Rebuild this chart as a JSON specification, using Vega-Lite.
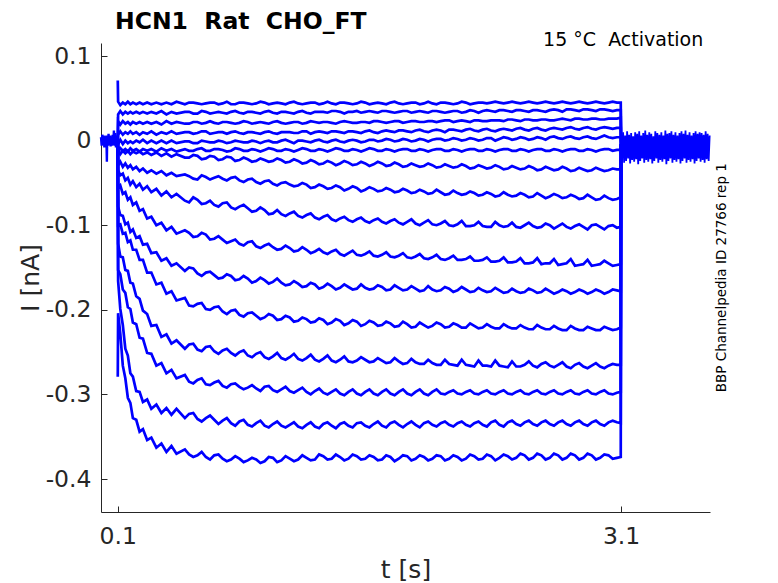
{
  "$schema": "https://vega.github.io/schema/vega-lite/v6.json",
  "width": 609,
  "height": 469,
  "autosize": {"type": "none"},
  "padding": {"left": 101, "top": 43, "right": 68, "bottom": 71},
  "background": "white",
  "title": {
    "text": "HCN1\u00a0\u00a0Rat\u00a0\u00a0CHO_FT",
    "anchor": "start",
    "frame": "group",
    "dx": 14,
    "dy": 38,
    "offset": 16,
    "baseline": "alphabetic",
    "font": "DejaVu Sans",
    "fontSize": 23.5,
    "fontWeight": "bold",
    "color": "#000000"
  },
  "datasets": {
    "pre": [
      {"t": 0, "I": 0.004}, {"t": 0.004, "I": -0.006}, {"t": 0.008, "I": 0.007}, {"t": 0.012, "I": -0.005},
      {"t": 0.016, "I": 0.006}, {"t": 0.02, "I": -0.008}, {"t": 0.024, "I": 0.005}, {"t": 0.028, "I": -0.007},
      {"t": 0.032, "I": 0.006}, {"t": 0.035, "I": -0.025}, {"t": 0.037, "I": 0.004}, {"t": 0.041, "I": -0.006},
      {"t": 0.045, "I": 0.008}, {"t": 0.049, "I": -0.005}, {"t": 0.053, "I": 0.006}, {"t": 0.057, "I": -0.007},
      {"t": 0.061, "I": 0.005}, {"t": 0.065, "I": -0.006}, {"t": 0.069, "I": 0.007}, {"t": 0.073, "I": -0.005},
      {"t": 0.077, "I": 0.012}, {"t": 0.081, "I": -0.006}, {"t": 0.085, "I": 0.009}, {"t": 0.089, "I": -0.008},
      {"t": 0.093, "I": 0.006}, {"t": 0.097, "I": -0.005}, {"t": 0.1, "I": 0}
    ],
    "steps": [
      {"t":0.1,"a":0.071,"b":0,"c":0,"d":0,"e":0,"f":0,"g":0,"h":0,"i":0,"j":0,"k":0,"l":0,"m":0,"n":0,"o":0,"p":-0.279},
      {"t":0.102,"a":0.046,"b":0.031,"c":0.023,"d":0.007,"e":-0.004,"f":-0.013,"g":-0.011,"h":-0.029,"i":-0.035,"j":-0.056,"k":-0.078,"l":-0.1,"m":-0.122,"n":-0.153,"o":-0.166,"p":-0.204},
      {"t":0.115,"a":0.042,"b":0.035,"c":0.019,"d":0.011,"e":0.001,"f":-0.009,"g":-0.016,"h":-0.025,"i":-0.041,"j":-0.053,"k":-0.088,"l":-0.099,"m":-0.137,"n":-0.158,"o":-0.199,"p":-0.228},
      {"t":0.13,"a":0.045,"b":0.031,"c":0.023,"d":0.007,"e":-0.004,"f":-0.012,"g":-0.012,"h":-0.031,"i":-0.039,"j":-0.063,"k":-0.089,"l":-0.11,"m":-0.138,"n":-0.176,"o":-0.218,"p":-0.266},
      {"t":0.145,"a":0.043,"b":0.034,"c":0.02,"d":0.01,"e":0,"f":-0.01,"g":-0.015,"h":-0.027,"i":-0.047,"j":-0.061,"k":-0.099,"l":-0.109,"m":-0.153,"n":-0.18,"o":-0.246,"p":-0.281},
      {"t":0.16,"a":0.046,"b":0.032,"c":0.022,"d":0.008,"e":-0.003,"f":-0.013,"g":-0.012,"h":-0.032,"i":-0.044,"j":-0.07,"k":-0.097,"l":-0.12,"m":-0.154,"n":-0.197,"o":-0.254,"p":-0.304},
      {"t":0.175,"a":0.043,"b":0.034,"c":0.019,"d":0.011,"e":-0.001,"f":-0.009,"g":-0.016,"h":-0.029,"i":-0.052,"j":-0.067,"k":-0.108,"l":-0.118,"m":-0.168,"n":-0.199,"o":-0.275,"p":-0.31},
      {"t":0.19,"a":0.045,"b":0.032,"c":0.022,"d":0.008,"e":-0.003,"f":-0.012,"g":-0.013,"h":-0.034,"i":-0.048,"j":-0.076,"k":-0.105,"l":-0.129,"m":-0.169,"n":-0.215,"o":-0.279,"p":-0.328},
      {"t":0.21,"a":0.043,"b":0.034,"c":0.02,"d":0.01,"e":0,"f":-0.01,"g":-0.015,"h":-0.031,"i":-0.055,"j":-0.073,"k":-0.115,"l":-0.129,"m":-0.184,"n":-0.217,"o":-0.296,"p":-0.33},
      {"t":0.23,"a":0.045,"b":0.032,"c":0.022,"d":0.007,"e":-0.002,"f":-0.013,"g":-0.013,"h":-0.036,"i":-0.051,"j":-0.083,"k":-0.113,"l":-0.141,"m":-0.187,"n":-0.233,"o":-0.297,"p":-0.344},
      {"t":0.25,"a":0.043,"b":0.034,"c":0.02,"d":0.01,"e":0.001,"f":-0.01,"g":-0.016,"h":-0.033,"i":-0.058,"j":-0.081,"k":-0.123,"l":-0.141,"m":-0.201,"n":-0.234,"o":-0.309,"p":-0.341},
      {"t":0.275,"a":0.045,"b":0.032,"c":0.022,"d":0.008,"e":-0.003,"f":-0.012,"g":-0.014,"h":-0.038,"i":-0.054,"j":-0.092,"k":-0.122,"l":-0.156,"m":-0.205,"n":-0.251,"o":-0.306,"p":-0.354},
      {"t":0.3,"a":0.043,"b":0.034,"c":0.02,"d":0.011,"e":0,"f":-0.01,"g":-0.017,"h":-0.035,"i":-0.061,"j":-0.09,"k":-0.133,"l":-0.156,"m":-0.219,"n":-0.252,"o":-0.317,"p":-0.351},
      {"t":0.33,"a":0.045,"b":0.032,"c":0.022,"d":0.007,"e":-0.003,"f":-0.013,"g":-0.014,"h":-0.039,"i":-0.057,"j":-0.1,"k":-0.132,"l":-0.17,"m":-0.218,"n":-0.266,"o":-0.312,"p":-0.363},
      {"t":0.36,"a":0.043,"b":0.035,"c":0.019,"d":0.01,"e":0,"f":-0.009,"g":-0.018,"h":-0.036,"i":-0.065,"j":-0.097,"k":-0.142,"l":-0.168,"m":-0.232,"n":-0.263,"o":-0.322,"p":-0.358},
      {"t":0.39,"a":0.045,"b":0.031,"c":0.023,"d":0.008,"e":-0.003,"f":-0.012,"g":-0.015,"h":-0.041,"i":-0.06,"j":-0.106,"k":-0.139,"l":-0.181,"m":-0.229,"n":-0.275,"o":-0.316,"p":-0.368},
      {"t":0.42,"a":0.043,"b":0.034,"c":0.02,"d":0.011,"e":0,"f":-0.01,"g":-0.019,"h":-0.038,"i":-0.067,"j":-0.102,"k":-0.148,"l":-0.178,"m":-0.24,"n":-0.271,"o":-0.324,"p":-0.361},
      {"t":0.45,"a":0.046,"b":0.032,"c":0.022,"d":0.008,"e":-0.003,"f":-0.013,"g":-0.016,"h":-0.042,"i":-0.063,"j":-0.11,"k":-0.145,"l":-0.189,"m":-0.236,"n":-0.281,"o":-0.317,"p":-0.37},
      {"t":0.5,"a":0.043,"b":0.034,"c":0.02,"d":0.01,"e":-0.001,"f":-0.01,"g":-0.02,"h":-0.04,"i":-0.071,"j":-0.106,"k":-0.154,"l":-0.186,"m":-0.246,"n":-0.277,"o":-0.328,"p":-0.365},
      {"t":0.55,"a":0.045,"b":0.032,"c":0.022,"d":0.008,"e":-0.003,"f":-0.012,"g":-0.017,"h":-0.045,"i":-0.067,"j":-0.114,"k":-0.151,"l":-0.196,"m":-0.24,"n":-0.287,"o":-0.322,"p":-0.374},
      {"t":0.6,"a":0.043,"b":0.035,"c":0.02,"d":0.011,"e":0,"f":-0.009,"g":-0.022,"h":-0.041,"i":-0.075,"j":-0.109,"k":-0.16,"l":-0.192,"m":-0.249,"n":-0.281,"o":-0.332,"p":-0.368},
      {"t":0.65,"a":0.045,"b":0.032,"c":0.023,"d":0.008,"e":-0.002,"f":-0.012,"g":-0.018,"h":-0.046,"i":-0.071,"j":-0.117,"k":-0.155,"l":-0.2,"m":-0.243,"n":-0.289,"o":-0.325,"p":-0.377},
      {"t":0.7,"a":0.043,"b":0.034,"c":0.02,"d":0.01,"e":0,"f":-0.01,"g":-0.023,"h":-0.042,"i":-0.078,"j":-0.113,"k":-0.163,"l":-0.196,"m":-0.252,"n":-0.284,"o":-0.335,"p":-0.371},
      {"t":0.75,"a":0.046,"b":0.032,"c":0.022,"d":0.008,"e":-0.003,"f":-0.013,"g":-0.019,"h":-0.047,"i":-0.073,"j":-0.121,"k":-0.158,"l":-0.205,"m":-0.246,"n":-0.292,"o":-0.328,"p":-0.379},
      {"t":0.8,"a":0.043,"b":0.035,"c":0.02,"d":0.011,"e":0,"f":-0.009,"g":-0.024,"h":-0.043,"i":-0.081,"j":-0.117,"k":-0.165,"l":-0.2,"m":-0.254,"n":-0.287,"o":-0.337,"p":-0.373},
      {"t":0.85,"a":0.045,"b":0.032,"c":0.023,"d":0.008,"e":-0.002,"f":-0.012,"g":-0.02,"h":-0.049,"i":-0.076,"j":-0.124,"k":-0.16,"l":-0.208,"m":-0.248,"n":-0.294,"o":-0.33,"p":-0.38},
      {"t":0.9,"a":0.043,"b":0.034,"c":0.02,"d":0.01,"e":0,"f":-0.01,"g":-0.025,"h":-0.045,"i":-0.084,"j":-0.119,"k":-0.168,"l":-0.203,"m":-0.256,"n":-0.289,"o":-0.338,"p":-0.375},
      {"t":0.95,"a":0.046,"b":0.032,"c":0.022,"d":0.008,"e":-0.003,"f":-0.013,"g":-0.021,"h":-0.051,"i":-0.079,"j":-0.127,"k":-0.162,"l":-0.211,"m":-0.25,"n":-0.296,"o":-0.331,"p":-0.381},
      {"t":1.0,"a":0.043,"b":0.035,"c":0.02,"d":0.011,"e":0,"f":-0.009,"g":-0.025,"h":-0.047,"i":-0.087,"j":-0.122,"k":-0.169,"l":-0.205,"m":-0.258,"n":-0.29,"o":-0.339,"p":-0.374},
      {"t":1.05,"a":0.045,"b":0.032,"c":0.023,"d":0.008,"e":-0.002,"f":-0.012,"g":-0.021,"h":-0.053,"i":-0.082,"j":-0.129,"k":-0.163,"l":-0.212,"m":-0.251,"n":-0.297,"o":-0.332,"p":-0.38},
      {"t":1.1,"a":0.043,"b":0.034,"c":0.02,"d":0.01,"e":0.001,"f":-0.01,"g":-0.026,"h":-0.049,"i":-0.089,"j":-0.124,"k":-0.171,"l":-0.207,"m":-0.259,"n":-0.291,"o":-0.339,"p":-0.373},
      {"t":1.15,"a":0.046,"b":0.032,"c":0.022,"d":0.009,"e":-0.003,"f":-0.013,"g":-0.022,"h":-0.054,"i":-0.084,"j":-0.131,"k":-0.166,"l":-0.214,"m":-0.252,"n":-0.298,"o":-0.333,"p":-0.379},
      {"t":1.2,"a":0.043,"b":0.035,"c":0.02,"d":0.011,"e":0,"f":-0.009,"g":-0.027,"h":-0.05,"i":-0.091,"j":-0.126,"k":-0.173,"l":-0.209,"m":-0.26,"n":-0.292,"o":-0.34,"p":-0.372},
      {"t":1.25,"a":0.045,"b":0.032,"c":0.023,"d":0.008,"e":-0.002,"f":-0.012,"g":-0.023,"h":-0.056,"i":-0.086,"j":-0.133,"k":-0.168,"l":-0.215,"m":-0.253,"n":-0.3,"o":-0.333,"p":-0.378},
      {"t":1.3,"a":0.043,"b":0.034,"c":0.021,"d":0.011,"e":0.001,"f":-0.01,"g":-0.028,"h":-0.052,"i":-0.093,"j":-0.128,"k":-0.175,"l":-0.21,"m":-0.261,"n":-0.293,"o":-0.34,"p":-0.371},
      {"t":1.35,"a":0.046,"b":0.033,"c":0.022,"d":0.009,"e":-0.002,"f":-0.013,"g":-0.024,"h":-0.057,"i":-0.088,"j":-0.134,"k":-0.169,"l":-0.217,"m":-0.254,"n":-0.3,"o":-0.333,"p":-0.377},
      {"t":1.4,"a":0.043,"b":0.035,"c":0.02,"d":0.011,"e":0.001,"f":-0.009,"g":-0.029,"h":-0.053,"i":-0.095,"j":-0.129,"k":-0.176,"l":-0.211,"m":-0.262,"n":-0.294,"o":-0.34,"p":-0.371},
      {"t":1.45,"a":0.045,"b":0.032,"c":0.023,"d":0.009,"e":-0.002,"f":-0.012,"g":-0.024,"h":-0.059,"i":-0.09,"j":-0.136,"k":-0.17,"l":-0.218,"m":-0.255,"n":-0.301,"o":-0.333,"p":-0.378},
      {"t":1.5,"a":0.043,"b":0.034,"c":0.021,"d":0.011,"e":0.001,"f":-0.01,"g":-0.029,"h":-0.054,"i":-0.096,"j":-0.13,"k":-0.176,"l":-0.212,"m":-0.262,"n":-0.294,"o":-0.339,"p":-0.371},
      {"t":1.55,"a":0.046,"b":0.033,"c":0.022,"d":0.009,"e":-0.002,"f":-0.013,"g":-0.025,"h":-0.06,"i":-0.091,"j":-0.136,"k":-0.17,"l":-0.219,"m":-0.256,"n":-0.301,"o":-0.333,"p":-0.377},
      {"t":1.6,"a":0.043,"b":0.035,"c":0.021,"d":0.012,"e":0.001,"f":-0.009,"g":-0.03,"h":-0.055,"i":-0.097,"j":-0.131,"k":-0.176,"l":-0.213,"m":-0.262,"n":-0.294,"o":-0.339,"p":-0.372},
      {"t":1.65,"a":0.045,"b":0.033,"c":0.023,"d":0.009,"e":-0.001,"f":-0.012,"g":-0.025,"h":-0.06,"i":-0.092,"j":-0.137,"k":-0.171,"l":-0.219,"m":-0.257,"n":-0.301,"o":-0.332,"p":-0.378},
      {"t":1.7,"a":0.043,"b":0.035,"c":0.021,"d":0.012,"e":0.002,"f":-0.01,"g":-0.03,"h":-0.056,"i":-0.098,"j":-0.132,"k":-0.177,"l":-0.214,"m":-0.263,"n":-0.294,"o":-0.339,"p":-0.372},
      {"t":1.75,"a":0.046,"b":0.033,"c":0.023,"d":0.01,"e":-0.001,"f":-0.013,"g":-0.026,"h":-0.061,"i":-0.093,"j":-0.138,"k":-0.171,"l":-0.22,"m":-0.257,"n":-0.301,"o":-0.332,"p":-0.379},
      {"t":1.8,"a":0.043,"b":0.035,"c":0.021,"d":0.012,"e":0.002,"f":-0.01,"g":-0.031,"h":-0.057,"i":-0.099,"j":-0.133,"k":-0.177,"l":-0.214,"m":-0.264,"n":-0.294,"o":-0.339,"p":-0.372},
      {"t":1.85,"a":0.045,"b":0.033,"c":0.023,"d":0.01,"e":-0.001,"f":-0.012,"g":-0.027,"h":-0.062,"i":-0.093,"j":-0.139,"k":-0.172,"l":-0.221,"m":-0.258,"n":-0.301,"o":-0.332,"p":-0.378},
      {"t":1.9,"a":0.043,"b":0.035,"c":0.022,"d":0.013,"e":0.002,"f":-0.01,"g":-0.031,"h":-0.058,"i":-0.1,"j":-0.134,"k":-0.178,"l":-0.215,"m":-0.264,"n":-0.294,"o":-0.339,"p":-0.372},
      {"t":1.95,"a":0.046,"b":0.033,"c":0.023,"d":0.01,"e":-0.001,"f":-0.013,"g":-0.027,"h":-0.063,"i":-0.094,"j":-0.14,"k":-0.172,"l":-0.221,"m":-0.259,"n":-0.301,"o":-0.332,"p":-0.378},
      {"t":2.0,"a":0.043,"b":0.035,"c":0.022,"d":0.013,"e":0.002,"f":-0.01,"g":-0.032,"h":-0.058,"i":-0.1,"j":-0.135,"k":-0.178,"l":-0.215,"m":-0.265,"n":-0.294,"o":-0.338,"p":-0.372},
      {"t":2.05,"a":0.045,"b":0.033,"c":0.024,"d":0.01,"e":0,"f":-0.012,"g":-0.028,"h":-0.064,"i":-0.095,"j":-0.141,"k":-0.173,"l":-0.221,"m":-0.259,"n":-0.3,"o":-0.332,"p":-0.378},
      {"t":2.1,"a":0.043,"b":0.035,"c":0.022,"d":0.013,"e":0.003,"f":-0.01,"g":-0.032,"h":-0.059,"i":-0.101,"j":-0.136,"k":-0.179,"l":-0.216,"m":-0.265,"n":-0.295,"o":-0.338,"p":-0.372},
      {"t":2.15,"a":0.046,"b":0.033,"c":0.024,"d":0.011,"e":0,"f":-0.013,"g":-0.028,"h":-0.064,"i":-0.095,"j":-0.141,"k":-0.173,"l":-0.221,"m":-0.259,"n":-0.3,"o":-0.332,"p":-0.378},
      {"t":2.2,"a":0.043,"b":0.036,"c":0.022,"d":0.014,"e":0.003,"f":-0.01,"g":-0.033,"h":-0.06,"i":-0.101,"j":-0.137,"k":-0.179,"l":-0.216,"m":-0.266,"n":-0.295,"o":-0.338,"p":-0.371},
      {"t":2.25,"a":0.045,"b":0.033,"c":0.024,"d":0.011,"e":0,"f":-0.012,"g":-0.029,"h":-0.065,"i":-0.096,"j":-0.142,"k":-0.174,"l":-0.222,"m":-0.26,"n":-0.3,"o":-0.332,"p":-0.377},
      {"t":2.3,"a":0.044,"b":0.036,"c":0.023,"d":0.014,"e":0.003,"f":-0.01,"g":-0.033,"h":-0.061,"i":-0.102,"j":-0.138,"k":-0.179,"l":-0.217,"m":-0.266,"n":-0.295,"o":-0.338,"p":-0.371},
      {"t":2.35,"a":0.046,"b":0.034,"c":0.024,"d":0.011,"e":0,"f":-0.013,"g":-0.029,"h":-0.066,"i":-0.096,"j":-0.143,"k":-0.174,"l":-0.222,"m":-0.26,"n":-0.3,"o":-0.331,"p":-0.378},
      {"t":2.4,"a":0.044,"b":0.036,"c":0.023,"d":0.014,"e":0.004,"f":-0.01,"g":-0.034,"h":-0.061,"i":-0.102,"j":-0.138,"k":-0.18,"l":-0.217,"m":-0.267,"n":-0.295,"o":-0.338,"p":-0.371},
      {"t":2.45,"a":0.046,"b":0.034,"c":0.025,"d":0.012,"e":0.001,"f":-0.012,"g":-0.03,"h":-0.066,"i":-0.097,"j":-0.144,"k":-0.175,"l":-0.222,"m":-0.261,"n":-0.3,"o":-0.331,"p":-0.377},
      {"t":2.5,"a":0.044,"b":0.036,"c":0.023,"d":0.015,"e":0.004,"f":-0.01,"g":-0.034,"h":-0.062,"i":-0.103,"j":-0.139,"k":-0.18,"l":-0.218,"m":-0.267,"n":-0.295,"o":-0.337,"p":-0.37},
      {"t":2.55,"a":0.046,"b":0.034,"c":0.025,"d":0.012,"e":0.001,"f":-0.013,"g":-0.03,"h":-0.067,"i":-0.097,"j":-0.145,"k":-0.175,"l":-0.223,"m":-0.261,"n":-0.3,"o":-0.331,"p":-0.377},
      {"t":2.6,"a":0.044,"b":0.036,"c":0.024,"d":0.015,"e":0.004,"f":-0.01,"g":-0.035,"h":-0.062,"i":-0.103,"j":-0.139,"k":-0.18,"l":-0.218,"m":-0.268,"n":-0.295,"o":-0.337,"p":-0.37},
      {"t":2.65,"a":0.046,"b":0.034,"c":0.025,"d":0.012,"e":0.001,"f":-0.012,"g":-0.031,"h":-0.068,"i":-0.098,"j":-0.145,"k":-0.175,"l":-0.223,"m":-0.262,"n":-0.3,"o":-0.331,"p":-0.377},
      {"t":2.7,"a":0.044,"b":0.037,"c":0.024,"d":0.015,"e":0.005,"f":-0.01,"g":-0.035,"h":-0.063,"i":-0.104,"j":-0.14,"k":-0.181,"l":-0.219,"m":-0.268,"n":-0.295,"o":-0.337,"p":-0.37},
      {"t":2.75,"a":0.046,"b":0.034,"c":0.026,"d":0.013,"e":0.002,"f":-0.013,"g":-0.031,"h":-0.068,"i":-0.098,"j":-0.146,"k":-0.176,"l":-0.224,"m":-0.262,"n":-0.3,"o":-0.331,"p":-0.377},
      {"t":2.8,"a":0.044,"b":0.037,"c":0.024,"d":0.016,"e":0.005,"f":-0.01,"g":-0.036,"h":-0.064,"i":-0.104,"j":-0.14,"k":-0.181,"l":-0.219,"m":-0.269,"n":-0.295,"o":-0.337,"p":-0.37},
      {"t":2.85,"a":0.046,"b":0.035,"c":0.026,"d":0.013,"e":0.002,"f":-0.012,"g":-0.032,"h":-0.069,"i":-0.099,"j":-0.147,"k":-0.176,"l":-0.224,"m":-0.263,"n":-0.3,"o":-0.331,"p":-0.377},
      {"t":2.9,"a":0.044,"b":0.037,"c":0.025,"d":0.016,"e":0.005,"f":-0.01,"g":-0.036,"h":-0.064,"i":-0.105,"j":-0.141,"k":-0.181,"l":-0.22,"m":-0.269,"n":-0.295,"o":-0.337,"p":-0.37},
      {"t":2.95,"a":0.046,"b":0.035,"c":0.026,"d":0.013,"e":0.002,"f":-0.013,"g":-0.032,"h":-0.07,"i":-0.099,"j":-0.147,"k":-0.176,"l":-0.224,"m":-0.263,"n":-0.3,"o":-0.331,"p":-0.377},
      {"t":3.0,"a":0.044,"b":0.037,"c":0.025,"d":0.016,"e":0.006,"f":-0.01,"g":-0.036,"h":-0.065,"i":-0.105,"j":-0.142,"k":-0.181,"l":-0.22,"m":-0.269,"n":-0.295,"o":-0.337,"p":-0.371},
      {"t":3.05,"a":0.046,"b":0.035,"c":0.026,"d":0.014,"e":0.003,"f":-0.012,"g":-0.033,"h":-0.07,"i":-0.1,"j":-0.148,"k":-0.176,"l":-0.224,"m":-0.264,"n":-0.3,"o":-0.331,"p":-0.376},
      {"t":3.098,"a":0.045,"b":0.036,"c":0.027,"d":0.015,"e":0.004,"f":-0.011,"g":-0.034,"h":-0.067,"i":-0.102,"j":-0.146,"k":-0.178,"l":-0.221,"m":-0.265,"n":-0.297,"o":-0.334,"p":-0.374},
      {"t":3.1,"a":-0.004,"b":-0.004,"c":-0.004,"d":-0.004,"e":-0.004,"f":-0.004,"g":-0.004,"h":-0.004,"i":-0.004,"j":-0.004,"k":-0.004,"l":-0.004,"m":-0.004,"n":-0.004,"o":-0.004,"p":-0.004},
      {"t":0.525,"a":0.045,"b":0.034,"c":0.02,"d":0.01,"e":-0.001,"f":-0.012,"g":-0.02,"h":-0.042,"i":-0.073,"j":-0.109,"k":-0.15,"l":-0.195,"m":-0.241,"n":-0.285,"o":-0.323,"p":-0.371},
      {"t":0.575,"a":0.044,"b":0.032,"c":0.022,"d":0.009,"e":-0.003,"f":-0.01,"g":-0.018,"h":-0.046,"i":-0.07,"j":-0.113,"k":-0.157,"l":-0.193,"m":-0.247,"n":-0.283,"o":-0.329,"p":-0.372},
      {"t":0.625,"a":0.044,"b":0.034,"c":0.021,"d":0.011,"e":-0.001,"f":-0.012,"g":-0.021,"h":-0.043,"i":-0.074,"j":-0.111,"k":-0.156,"l":-0.199,"m":-0.244,"n":-0.288,"o":-0.328,"p":-0.374},
      {"t":0.675,"a":0.045,"b":0.033,"c":0.021,"d":0.009,"e":-0.002,"f":-0.01,"g":-0.019,"h":-0.044,"i":-0.076,"j":-0.116,"k":-0.159,"l":-0.197,"m":-0.249,"n":-0.286,"o":-0.33,"p":-0.372},
      {"t":0.725,"a":0.044,"b":0.033,"c":0.022,"d":0.01,"e":-0.001,"f":-0.011,"g":-0.022,"h":-0.045,"i":-0.074,"j":-0.117,"k":-0.162,"l":-0.202,"m":-0.248,"n":-0.29,"o":-0.331,"p":-0.376},
      {"t":0.775,"a":0.043,"b":0.034,"c":0.021,"d":0.01,"e":-0.002,"f":-0.012,"g":-0.02,"h":-0.044,"i":-0.079,"j":-0.119,"k":-0.16,"l":-0.201,"m":-0.251,"n":-0.288,"o":-0.334,"p":-0.377},
      {"t":0.825,"a":0.045,"b":0.033,"c":0.021,"d":0.009,"e":-0.001,"f":-0.01,"g":-0.023,"h":-0.047,"i":-0.078,"j":-0.122,"k":-0.164,"l":-0.206,"m":-0.25,"n":-0.291,"o":-0.332,"p":-0.376},
      {"t":0.875,"a":0.044,"b":0.034,"c":0.022,"d":0.01,"e":-0.002,"f":-0.012,"g":-0.022,"h":-0.046,"i":-0.08,"j":-0.12,"k":-0.163,"l":-0.204,"m":-0.254,"n":-0.292,"o":-0.336,"p":-0.378},
      {"t":0.925,"a":0.044,"b":0.033,"c":0.021,"d":0.009,"e":-0.001,"f":-0.011,"g":-0.024,"h":-0.049,"i":-0.083,"j":-0.125,"k":-0.166,"l":-0.207,"m":-0.252,"n":-0.293,"o":-0.334,"p":-0.377},
      {"t":0.975,"a":0.045,"b":0.034,"c":0.021,"d":0.01,"e":-0.001,"f":-0.011,"g":-0.023,"h":-0.048,"i":-0.082,"j":-0.124,"k":-0.165,"l":-0.209,"m":-0.256,"n":-0.291,"o":-0.337,"p":-0.379},
      {"t":1.025,"a":0.044,"b":0.033,"c":0.022,"d":0.009,"e":-0.002,"f":-0.01,"g":-0.024,"h":-0.051,"i":-0.086,"j":-0.126,"k":-0.167,"l":-0.207,"m":-0.255,"n":-0.295,"o":-0.335,"p":-0.375},
      {"t":1.075,"a":0.044,"b":0.034,"c":0.021,"d":0.01,"e":0,"f":-0.012,"g":-0.023,"h":-0.05,"i":-0.087,"j":-0.128,"k":-0.168,"l":-0.211,"m":-0.257,"n":-0.294,"o":-0.337,"p":-0.378},
      {"t":1.125,"a":0.045,"b":0.033,"c":0.021,"d":0.01,"e":-0.001,"f":-0.011,"g":-0.025,"h":-0.052,"i":-0.086,"j":-0.127,"k":-0.17,"l":-0.209,"m":-0.256,"n":-0.296,"o":-0.336,"p":-0.376},
      {"t":1.175,"a":0.044,"b":0.034,"c":0.022,"d":0.009,"e":0,"f":-0.011,"g":-0.024,"h":-0.053,"i":-0.089,"j":-0.13,"k":-0.169,"l":-0.213,"m":-0.258,"n":-0.295,"o":-0.338,"p":-0.377},
      {"t":1.225,"a":0.044,"b":0.033,"c":0.021,"d":0.011,"e":-0.001,"f":-0.01,"g":-0.026,"h":-0.052,"i":-0.088,"j":-0.129,"k":-0.172,"l":-0.211,"m":-0.257,"n":-0.297,"o":-0.336,"p":-0.375},
      {"t":1.275,"a":0.045,"b":0.034,"c":0.022,"d":0.01,"e":0,"f":-0.012,"g":-0.025,"h":-0.055,"i":-0.091,"j":-0.131,"k":-0.17,"l":-0.214,"m":-0.259,"n":-0.296,"o":-0.338,"p":-0.377},
      {"t":1.325,"a":0.044,"b":0.034,"c":0.022,"d":0.01,"e":-0.001,"f":-0.011,"g":-0.027,"h":-0.054,"i":-0.09,"j":-0.132,"k":-0.173,"l":-0.212,"m":-0.258,"n":-0.298,"o":-0.335,"p":-0.373},
      {"t":1.375,"a":0.044,"b":0.035,"c":0.021,"d":0.011,"e":0,"f":-0.011,"g":-0.026,"h":-0.056,"i":-0.093,"j":-0.131,"k":-0.172,"l":-0.215,"m":-0.26,"n":-0.297,"o":-0.337,"p":-0.376},
      {"t":1.425,"a":0.045,"b":0.034,"c":0.022,"d":0.01,"e":-0.001,"f":-0.01,"g":-0.027,"h":-0.055,"i":-0.092,"j":-0.134,"k":-0.174,"l":-0.213,"m":-0.259,"n":-0.299,"o":-0.335,"p":-0.374},
      {"t":1.475,"a":0.044,"b":0.034,"c":0.022,"d":0.011,"e":0,"f":-0.012,"g":-0.026,"h":-0.057,"i":-0.094,"j":-0.133,"k":-0.173,"l":-0.216,"m":-0.261,"n":-0.297,"o":-0.337,"p":-0.376},
      {"t":1.525,"a":0.044,"b":0.035,"c":0.021,"d":0.01,"e":0,"f":-0.011,"g":-0.028,"h":-0.056,"i":-0.093,"j":-0.135,"k":-0.175,"l":-0.214,"m":-0.26,"n":-0.299,"o":-0.334,"p":-0.373},
      {"t":1.575,"a":0.045,"b":0.034,"c":0.022,"d":0.011,"e":-0.001,"f":-0.011,"g":-0.027,"h":-0.058,"i":-0.095,"j":-0.134,"k":-0.174,"l":-0.217,"m":-0.259,"n":-0.297,"o":-0.337,"p":-0.376},
      {"t":1.625,"a":0.044,"b":0.034,"c":0.023,"d":0.01,"e":0.001,"f":-0.01,"g":-0.028,"h":-0.057,"i":-0.094,"j":-0.136,"k":-0.175,"l":-0.215,"m":-0.261,"n":-0.299,"o":-0.335,"p":-0.374},
      {"t":1.675,"a":0.044,"b":0.035,"c":0.022,"d":0.011,"e":0,"f":-0.012,"g":-0.027,"h":-0.059,"i":-0.096,"j":-0.135,"k":-0.173,"l":-0.218,"m":-0.26,"n":-0.297,"o":-0.337,"p":-0.377},
      {"t":1.725,"a":0.045,"b":0.034,"c":0.022,"d":0.011,"e":0.001,"f":-0.011,"g":-0.029,"h":-0.058,"i":-0.095,"j":-0.137,"k":-0.176,"l":-0.216,"m":-0.262,"n":-0.299,"o":-0.334,"p":-0.374},
      {"t":1.775,"a":0.044,"b":0.034,"c":0.023,"d":0.012,"e":0,"f":-0.011,"g":-0.028,"h":-0.06,"i":-0.097,"j":-0.136,"k":-0.174,"l":-0.219,"m":-0.261,"n":-0.297,"o":-0.336,"p":-0.376},
      {"t":1.825,"a":0.044,"b":0.035,"c":0.022,"d":0.011,"e":0.001,"f":-0.01,"g":-0.03,"h":-0.059,"i":-0.096,"j":-0.138,"k":-0.176,"l":-0.217,"m":-0.263,"n":-0.299,"o":-0.335,"p":-0.373},
      {"t":1.875,"a":0.045,"b":0.034,"c":0.023,"d":0.012,"e":0,"f":-0.012,"g":-0.029,"h":-0.061,"i":-0.098,"j":-0.137,"k":-0.175,"l":-0.22,"m":-0.262,"n":-0.297,"o":-0.336,"p":-0.376},
      {"t":1.925,"a":0.044,"b":0.034,"c":0.022,"d":0.011,"e":0.001,"f":-0.011,"g":-0.03,"h":-0.06,"i":-0.097,"j":-0.139,"k":-0.177,"l":-0.218,"m":-0.264,"n":-0.299,"o":-0.334,"p":-0.374},
      {"t":1.975,"a":0.044,"b":0.035,"c":0.023,"d":0.012,"e":0.001,"f":-0.011,"g":-0.029,"h":-0.062,"i":-0.099,"j":-0.138,"k":-0.176,"l":-0.219,"m":-0.263,"n":-0.297,"o":-0.336,"p":-0.376},
      {"t":2.025,"a":0.045,"b":0.034,"c":0.023,"d":0.012,"e":0.002,"f":-0.01,"g":-0.031,"h":-0.061,"i":-0.098,"j":-0.14,"k":-0.177,"l":-0.217,"m":-0.265,"n":-0.299,"o":-0.334,"p":-0.373},
      {"t":2.075,"a":0.044,"b":0.034,"c":0.024,"d":0.013,"e":0.001,"f":-0.012,"g":-0.03,"h":-0.063,"i":-0.1,"j":-0.139,"k":-0.175,"l":-0.22,"m":-0.264,"n":-0.297,"o":-0.336,"p":-0.376},
      {"t":2.125,"a":0.044,"b":0.035,"c":0.023,"d":0.012,"e":0.002,"f":-0.011,"g":-0.031,"h":-0.062,"i":-0.099,"j":-0.141,"k":-0.177,"l":-0.218,"m":-0.266,"n":-0.299,"o":-0.334,"p":-0.374},
      {"t":2.175,"a":0.045,"b":0.034,"c":0.023,"d":0.013,"e":0.001,"f":-0.011,"g":-0.03,"h":-0.063,"i":-0.101,"j":-0.14,"k":-0.176,"l":-0.221,"m":-0.265,"n":-0.297,"o":-0.336,"p":-0.376},
      {"t":2.225,"a":0.044,"b":0.035,"c":0.024,"d":0.012,"e":0.002,"f":-0.01,"g":-0.032,"h":-0.062,"i":-0.1,"j":-0.142,"k":-0.178,"l":-0.219,"m":-0.267,"n":-0.299,"o":-0.334,"p":-0.373},
      {"t":2.275,"a":0.045,"b":0.035,"c":0.023,"d":0.013,"e":0.001,"f":-0.012,"g":-0.031,"h":-0.064,"i":-0.101,"j":-0.141,"k":-0.177,"l":-0.221,"m":-0.266,"n":-0.297,"o":-0.336,"p":-0.376},
      {"t":2.325,"a":0.045,"b":0.035,"c":0.024,"d":0.012,"e":0.003,"f":-0.011,"g":-0.032,"h":-0.063,"i":-0.102,"j":-0.143,"k":-0.178,"l":-0.22,"m":-0.267,"n":-0.299,"o":-0.333,"p":-0.373},
      {"t":2.375,"a":0.045,"b":0.036,"c":0.024,"d":0.013,"e":0.002,"f":-0.011,"g":-0.031,"h":-0.065,"i":-0.1,"j":-0.142,"k":-0.177,"l":-0.222,"m":-0.266,"n":-0.297,"o":-0.336,"p":-0.375},
      {"t":2.425,"a":0.045,"b":0.035,"c":0.025,"d":0.013,"e":0.003,"f":-0.01,"g":-0.033,"h":-0.064,"i":-0.101,"j":-0.144,"k":-0.179,"l":-0.22,"m":-0.268,"n":-0.299,"o":-0.333,"p":-0.373},
      {"t":2.475,"a":0.045,"b":0.036,"c":0.024,"d":0.014,"e":0.002,"f":-0.012,"g":-0.032,"h":-0.065,"i":-0.102,"j":-0.143,"k":-0.178,"l":-0.222,"m":-0.267,"n":-0.297,"o":-0.335,"p":-0.375},
      {"t":2.525,"a":0.045,"b":0.035,"c":0.025,"d":0.013,"e":0.003,"f":-0.011,"g":-0.033,"h":-0.064,"i":-0.1,"j":-0.145,"k":-0.179,"l":-0.221,"m":-0.265,"n":-0.299,"o":-0.333,"p":-0.372},
      {"t":2.575,"a":0.045,"b":0.036,"c":0.024,"d":0.014,"e":0.002,"f":-0.011,"g":-0.032,"h":-0.066,"i":-0.101,"j":-0.144,"k":-0.177,"l":-0.223,"m":-0.266,"n":-0.297,"o":-0.335,"p":-0.375},
      {"t":2.625,"a":0.045,"b":0.035,"c":0.025,"d":0.013,"e":0.003,"f":-0.01,"g":-0.034,"h":-0.065,"i":-0.102,"j":-0.146,"k":-0.179,"l":-0.221,"m":-0.264,"n":-0.299,"o":-0.333,"p":-0.372},
      {"t":2.675,"a":0.045,"b":0.036,"c":0.024,"d":0.014,"e":0.004,"f":-0.012,"g":-0.033,"h":-0.066,"i":-0.1,"j":-0.145,"k":-0.178,"l":-0.223,"m":-0.266,"n":-0.297,"o":-0.335,"p":-0.375},
      {"t":2.725,"a":0.045,"b":0.036,"c":0.025,"d":0.014,"e":0.003,"f":-0.011,"g":-0.034,"h":-0.065,"i":-0.101,"j":-0.147,"k":-0.179,"l":-0.222,"m":-0.265,"n":-0.299,"o":-0.333,"p":-0.372},
      {"t":2.775,"a":0.045,"b":0.037,"c":0.025,"d":0.015,"e":0.004,"f":-0.011,"g":-0.033,"h":-0.067,"i":-0.102,"j":-0.145,"k":-0.178,"l":-0.224,"m":-0.267,"n":-0.297,"o":-0.335,"p":-0.375},
      {"t":2.825,"a":0.045,"b":0.036,"c":0.026,"d":0.014,"e":0.003,"f":-0.01,"g":-0.035,"h":-0.066,"i":-0.101,"j":-0.148,"k":-0.179,"l":-0.222,"m":-0.265,"n":-0.299,"o":-0.333,"p":-0.372},
      {"t":2.875,"a":0.045,"b":0.037,"c":0.025,"d":0.015,"e":0.004,"f":-0.012,"g":-0.034,"h":-0.068,"i":-0.102,"j":-0.146,"k":-0.178,"l":-0.224,"m":-0.267,"n":-0.297,"o":-0.335,"p":-0.375},
      {"t":2.925,"a":0.045,"b":0.036,"c":0.026,"d":0.014,"e":0.003,"f":-0.011,"g":-0.035,"h":-0.067,"i":-0.1,"j":-0.148,"k":-0.179,"l":-0.222,"m":-0.266,"n":-0.299,"o":-0.333,"p":-0.372},
      {"t":2.975,"a":0.045,"b":0.037,"c":0.025,"d":0.015,"e":0.004,"f":-0.011,"g":-0.034,"h":-0.069,"i":-0.102,"j":-0.146,"k":-0.178,"l":-0.224,"m":-0.267,"n":-0.297,"o":-0.335,"p":-0.375},
      {"t":3.025,"a":0.045,"b":0.036,"c":0.026,"d":0.015,"e":0.004,"f":-0.01,"g":-0.035,"h":-0.068,"i":-0.101,"j":-0.145,"k":-0.179,"l":-0.222,"m":-0.266,"n":-0.299,"o":-0.333,"p":-0.372},
      {"t":3.075,"a":0.045,"b":0.036,"c":0.026,"d":0.015,"e":0.004,"f":-0.011,"g":-0.034,"h":-0.069,"i":-0.103,"j":-0.147,"k":-0.177,"l":-0.223,"m":-0.265,"n":-0.298,"o":-0.333,"p":-0.375}
    ],
    "tail": [
      {"t":3.1,"I":0.008},{"t":3.106,"I":-0.022},{"t":3.112,"I":0.01},{"t":3.118,"I":-0.026},{"t":3.124,"I":0.006},
      {"t":3.13,"I":-0.024},{"t":3.136,"I":0.011},{"t":3.142,"I":-0.021},{"t":3.148,"I":0.007},{"t":3.154,"I":-0.027},
      {"t":3.16,"I":0.009},{"t":3.166,"I":-0.023},{"t":3.172,"I":0.005},{"t":3.178,"I":-0.025},{"t":3.184,"I":0.01},
      {"t":3.19,"I":-0.022},{"t":3.196,"I":0.008},{"t":3.202,"I":-0.028},{"t":3.208,"I":0.011},{"t":3.214,"I":-0.024},
      {"t":3.22,"I":0.006},{"t":3.226,"I":-0.021},{"t":3.232,"I":0.009},{"t":3.238,"I":-0.026},{"t":3.244,"I":0.012},
      {"t":3.25,"I":-0.023},{"t":3.256,"I":0.007},{"t":3.262,"I":-0.025},{"t":3.268,"I":0.01},{"t":3.274,"I":-0.022},
      {"t":3.28,"I":0.008},{"t":3.286,"I":-0.027},{"t":3.292,"I":0.005},{"t":3.298,"I":-0.024},{"t":3.304,"I":0.011},
      {"t":3.31,"I":-0.021},{"t":3.316,"I":0.009},{"t":3.322,"I":-0.026},{"t":3.328,"I":0.007},{"t":3.334,"I":-0.023},
      {"t":3.34,"I":0.01},{"t":3.346,"I":-0.025},{"t":3.352,"I":0.006},{"t":3.358,"I":-0.022},{"t":3.364,"I":0.012},
      {"t":3.37,"I":-0.028},{"t":3.376,"I":0.008},{"t":3.382,"I":-0.024},{"t":3.388,"I":0.009},{"t":3.394,"I":-0.021},
      {"t":3.4,"I":0.011},{"t":3.406,"I":-0.026},{"t":3.412,"I":0.007},{"t":3.418,"I":-0.023},{"t":3.424,"I":0.01},
      {"t":3.43,"I":-0.025},{"t":3.436,"I":0.006},{"t":3.442,"I":-0.022},{"t":3.448,"I":0.009},{"t":3.454,"I":-0.027},
      {"t":3.46,"I":0.011},{"t":3.466,"I":-0.024},{"t":3.472,"I":0.008},{"t":3.478,"I":-0.021},{"t":3.484,"I":0.012},
      {"t":3.49,"I":-0.026},{"t":3.496,"I":0.007},{"t":3.502,"I":-0.023},{"t":3.508,"I":0.01},{"t":3.514,"I":-0.025},
      {"t":3.52,"I":0.006},{"t":3.526,"I":-0.022},{"t":3.532,"I":0.009},{"t":3.538,"I":-0.027},{"t":3.544,"I":0.011},
      {"t":3.55,"I":-0.024},{"t":3.556,"I":0.008},{"t":3.562,"I":-0.021},{"t":3.568,"I":0.01},{"t":3.574,"I":-0.025},
      {"t":3.58,"I":0.009},{"t":3.586,"I":-0.023},{"t":3.592,"I":0.007},{"t":3.598,"I":-0.026},{"t":3.604,"I":0.011},
      {"t":3.61,"I":-0.022},{"t":3.616,"I":0.008},{"t":3.622,"I":-0.024},{"t":3.628,"I":0.006}
    ]
  },
  "layer": [
    {
      "encoding": {
        "x": {
          "field": "t",
          "type": "quantitative",
          "title": "t [s]",
          "scale": {"domain": [0, 3.63], "nice": false, "zero": false},
          "axis": {
            "values": [0.1, 3.1],
            "labelExpr": "toString(datum.value)",
            "labelPadding": 18,
            "titleY": 65,
            "titleBaseline": "alphabetic"
          }
        },
        "y": {
          "field": "I",
          "type": "quantitative",
          "title": "I [nA]",
          "scale": {"domain": [-0.439, 0.1154], "nice": false, "zero": false},
          "axis": {
            "values": [-0.4, -0.3, -0.2, -0.1, 0, 0.1],
            "labelExpr": "toString(datum.value)",
            "labelPadding": 16,
            "titleX": -71,
            "titleBaseline": "middle"
          }
        }
      },
      "layer": [
        {
          "data": {"name": "pre"},
          "mark": {"type": "line", "color": "#0000ff", "strokeWidth": 2.4}
        },
        {
          "data": {"name": "steps"},
          "transform": [
            {"fold": ["a", "b", "c", "d", "e", "f", "g", "h", "i", "j", "k", "l", "m", "n", "o", "p"], "as": ["trace", "I"]}
          ],
          "mark": {"type": "line", "color": "#0000ff", "strokeWidth": 2.7},
          "encoding": {"detail": {"field": "trace", "type": "nominal"}}
        },
        {
          "data": {"name": "tail"},
          "mark": {"type": "line", "color": "#0000ff", "strokeWidth": 1.8}
        }
      ]
    },
    {
      "data": {"values": [{"note": "15 \u00b0C\u00a0\u00a0Activation"}]},
      "mark": {
        "type": "text",
        "align": "right",
        "baseline": "alphabetic",
        "font": "DejaVu Sans",
        "fontSize": 19,
        "color": "#000000"
      },
      "encoding": {
        "text": {"field": "note", "type": "nominal"},
        "x": {"datum": 3.59, "type": "quantitative", "title": "t [s]"},
        "y": {"datum": 0.1123, "type": "quantitative", "title": "I [nA]"}
      }
    },
    {
      "data": {"values": [{"note": "BBP Channelpedia ID 27766 rep 1"}]},
      "mark": {
        "type": "text",
        "angle": 270,
        "align": "center",
        "baseline": "middle",
        "font": "DejaVu Sans",
        "fontSize": 13.5,
        "color": "#000000"
      },
      "encoding": {
        "text": {"field": "note", "type": "nominal"},
        "x": {"datum": 3.7, "type": "quantitative", "title": "t [s]"},
        "y": {"datum": -0.162, "type": "quantitative", "title": "I [nA]"}
      }
    }
  ],
  "config": {
    "view": {"stroke": null},
    "axis": {
      "grid": false,
      "domainColor": "#262626",
      "tickColor": "#262626",
      "labelColor": "#262626",
      "titleColor": "#262626",
      "labelFont": "DejaVu Sans",
      "titleFont": "DejaVu Sans",
      "labelFontSize": 23.5,
      "titleFontSize": 25,
      "titleFontWeight": "normal",
      "tickSize": -6,
      "domainWidth": 1,
      "tickWidth": 1
    }
  }
}
